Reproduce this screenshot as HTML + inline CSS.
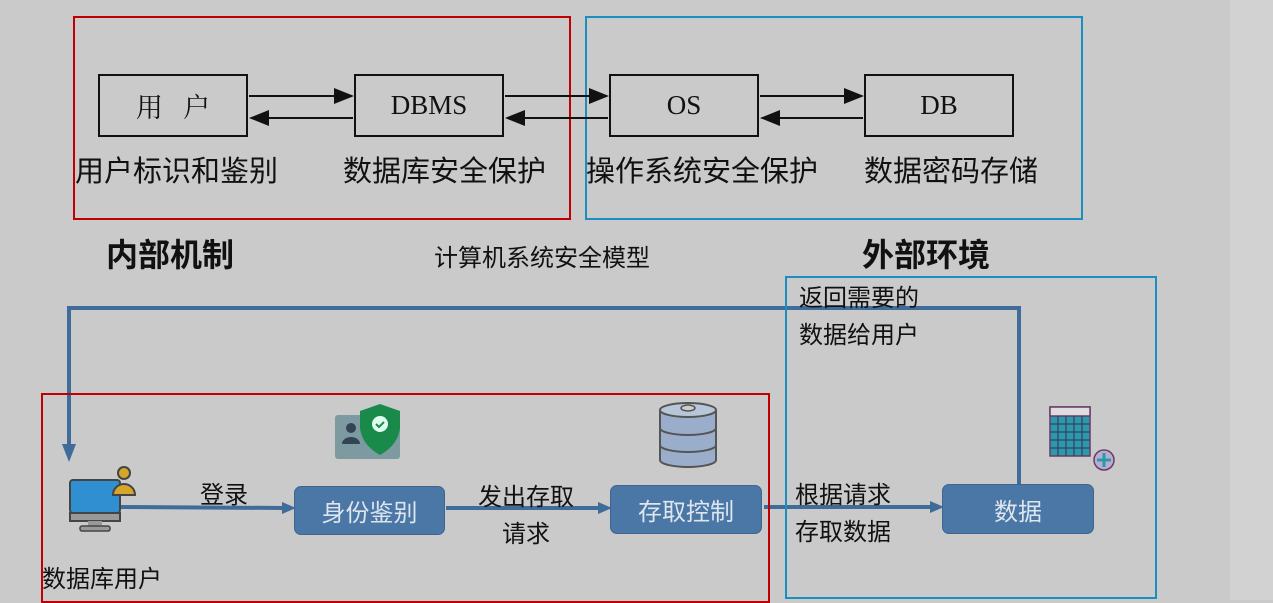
<!DOCTYPE html>
<html><head><meta charset="utf-8"><style>
body{margin:0;width:1273px;height:600px;overflow:hidden;background:#cacaca;position:relative;font-family:"Liberation Sans","Noto Sans CJK SC",sans-serif}
.a{position:absolute}
.box{position:absolute;border:2px solid #111;box-sizing:border-box;display:flex;align-items:center;justify-content:center;font-family:"Liberation Serif","Noto Serif CJK SC",serif;font-size:27px;color:#111}
.lab{position:absolute;font-size:29px;color:#111;white-space:nowrap;line-height:1.2}
.btn{position:absolute;background:#4a77a6;border:1px solid #3e6590;border-radius:7px;color:#dde5ef;font-size:24px;display:flex;align-items:center;justify-content:center;box-sizing:border-box}
.t{position:absolute;font-size:23px;color:#111;white-space:nowrap;line-height:1.2}
</style></head><body>
<div class="a" style="left:1230px;top:0;width:43px;height:600px;background:#d2d2d2"></div>
<div class="a" style="left:73px;top:16px;width:498px;height:204px;border:2px solid #c00000;box-sizing:border-box"></div>
<div class="a" style="left:585px;top:16px;width:498px;height:204px;border:2px solid #1a8fc0;box-sizing:border-box"></div>
<div class="box" style="left:98px;top:74px;width:150px;height:63px">用&nbsp;&nbsp;&nbsp;户</div>
<div class="box" style="left:354px;top:74px;width:150px;height:63px">DBMS</div>
<div class="box" style="left:609px;top:74px;width:150px;height:63px">OS</div>
<div class="box" style="left:864px;top:74px;width:150px;height:63px">DB</div>
<svg class="a" style="left:0;top:0" width="1273" height="600">
<defs><marker id="k" markerWidth="10" markerHeight="8" refX="9" refY="4" orient="auto"><path d="M0,0 L10,4 L0,8z" fill="#111"/></marker></defs>
<g stroke="#111" stroke-width="2" marker-end="url(#k)">
<line x1="249" y1="96" x2="352" y2="96"/><line x1="353" y1="118" x2="251" y2="118"/>
<line x1="505" y1="96" x2="607" y2="96"/><line x1="608" y1="118" x2="507" y2="118"/>
<line x1="760" y1="96" x2="862" y2="96"/><line x1="863" y1="118" x2="762" y2="118"/>
</g>
<g stroke="#3f6c99" stroke-width="4" fill="none">
<polyline points="1019,487 1019,308 69,308 69,452"/>
<line x1="120" y1="507" x2="285" y2="508"/>
<line x1="446" y1="508" x2="601" y2="508"/>
<line x1="764" y1="507" x2="933" y2="507"/>
</g>
<g fill="#3f6c99"><path d="M62,444 L76,444 L69,462z"/><path d="M282,502 L296,508 L282,514z"/><path d="M598,502 L612,508 L598,514z"/><path d="M930,501 L944,507 L930,513z"/></g>
<rect x="70" y="480" width="50" height="33" rx="3" fill="#2f8fd0" stroke="#444" stroke-width="2"/>
<rect x="70" y="513" width="50" height="8" fill="#999" stroke="#444" stroke-width="2"/>
<rect x="88" y="521" width="14" height="6" fill="#999"/><rect x="80" y="526" width="30" height="5" rx="2" fill="#999" stroke="#444" stroke-width="1.5"/>
<circle cx="124" cy="473" r="6" fill="#d4a62a" stroke="#444" stroke-width="2"/><path d="M113,495 a11,11 0 0 1 22,0z" fill="#d4a62a" stroke="#444" stroke-width="2"/>
<rect x="335" y="415" width="65" height="44" rx="3" fill="#7c9aa0"/>
<circle cx="351" cy="428" r="5" fill="#345"/><path d="M342,444 a9,7 0 0 1 18,0z" fill="#345"/>
<path d="M380,404 L400,411 L400,428 Q398,445 380,455 Q362,445 360,428 L360,411z" fill="#1a8a4a"/>
<circle cx="380" cy="424" r="8" fill="#dfe"/><path d="M376,424 l3,3 l5,-5" stroke="#1a8a4a" stroke-width="2" fill="none"/>
<path d="M660,410 v50 a28,7 0 0 0 56,0 v-50" fill="#9aaecb" stroke="#555" stroke-width="2"/>
<ellipse cx="688" cy="410" rx="28" ry="7" fill="#b8c6da" stroke="#555" stroke-width="2"/>
<ellipse cx="688" cy="408" rx="7" ry="3" fill="#ccc" stroke="#555" stroke-width="1.5"/>
<path d="M660,428 a28,7 0 0 0 56,0 M660,445 a28,7 0 0 0 56,0" stroke="#555" stroke-width="2" fill="none"/>
<rect x="1050" y="407" width="40" height="49" fill="#2a9aaa" stroke="#6a3a6a" stroke-width="1.5"/>
<rect x="1050" y="407" width="40" height="9" fill="#ddd" stroke="#6a3a6a" stroke-width="1.5"/>
<g stroke="#3a2a5a" stroke-width="1"><line x1="1058" y1="416" x2="1058" y2="456"/><line x1="1066" y1="416" x2="1066" y2="456"/><line x1="1074" y1="416" x2="1074" y2="456"/><line x1="1082" y1="416" x2="1082" y2="456"/><line x1="1050" y1="424" x2="1090" y2="424"/><line x1="1050" y1="432" x2="1090" y2="432"/><line x1="1050" y1="440" x2="1090" y2="440"/><line x1="1050" y1="448" x2="1090" y2="448"/></g>
<circle cx="1104" cy="460" r="10" fill="#b9aed0" stroke="#6a3a6a" stroke-width="1.5"/><path d="M1104,453 v14 M1097,460 h14" stroke="#2a9aaa" stroke-width="3"/>
</svg>
<div class="lab" style="left:75px;top:155px">用户标识和鉴别</div>
<div class="lab" style="left:343px;top:155px">数据库安全保护</div>
<div class="lab" style="left:586px;top:155px">操作系统安全保护</div>
<div class="lab" style="left:864px;top:155px">数据密码存储</div>
<div class="lab" style="left:106px;top:236px;font-size:32px;font-weight:bold">内部机制</div>
<div class="lab" style="left:862px;top:236px;font-size:32px;font-weight:bold">外部环境</div>
<div class="t" style="left:434px;top:245px;font-size:24px">计算机系统安全模型</div>
<div class="a" style="left:41px;top:393px;width:729px;height:210px;border:2px solid #c00000;box-sizing:border-box"></div>
<div class="a" style="left:785px;top:276px;width:372px;height:323px;border:2px solid #1a8fc0;box-sizing:border-box"></div>
<div class="btn" style="left:294px;top:486px;width:151px;height:49px">身份鉴别</div>
<div class="btn" style="left:610px;top:485px;width:152px;height:49px">存取控制</div>
<div class="btn" style="left:942px;top:484px;width:152px;height:50px">数据</div>
<div class="t" style="left:799px;top:285px;font-size:24px">返回需要的</div>
<div class="t" style="left:799px;top:322px;font-size:24px">数据给用户</div>
<div class="t" style="left:200px;top:482px;font-size:24px">登录</div>
<div class="t" style="left:478px;top:484px;font-size:24px">发出存取</div>
<div class="t" style="left:502px;top:521px;font-size:24px">请求</div>
<div class="t" style="left:795px;top:482px;font-size:24px">根据请求</div>
<div class="t" style="left:795px;top:519px;font-size:24px">存取数据</div>
<div class="t" style="left:42px;top:566px;font-size:24px">数据库用户</div>
</body></html>
